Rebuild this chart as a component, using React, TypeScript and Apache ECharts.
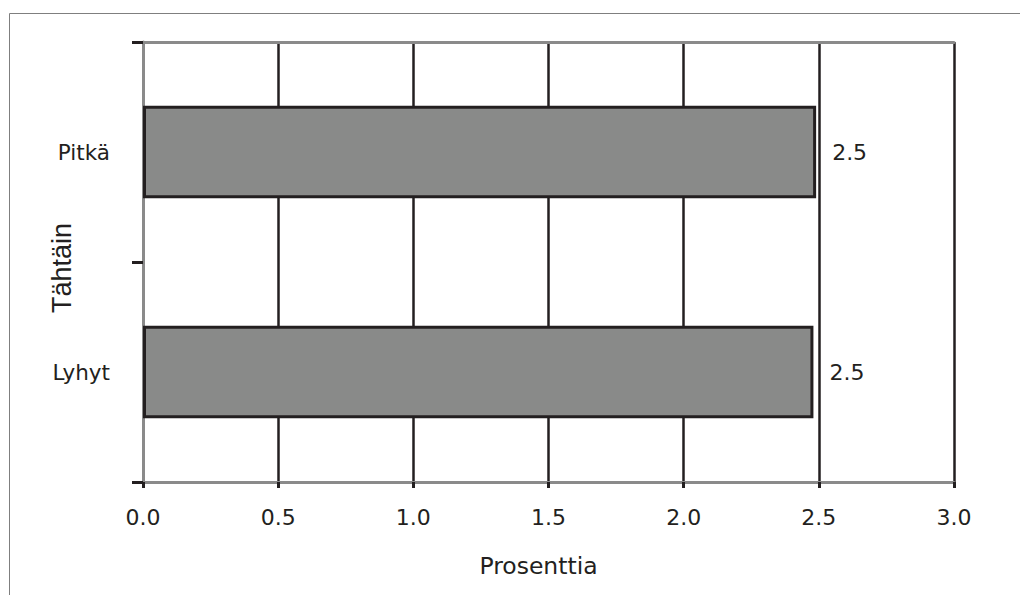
import React, { useEffect, useRef } from "react";
import * as echarts from "echarts";

const categories = ["Lyhyt", "Pitkä"];
const values = [2.48, 2.49];
const xTicks = [0, 0.5, 1.0, 1.5, 2.0, 2.5, 3.0];
const xTitle = "Prosenttia";
const yTitle = "Tähtäin";

const INK = "#231f20";
const AXIS_GRAY = "#8a8a8a";
const FONT = "DejaVu Sans";

export default function App() {
  const ref = useRef<HTMLDivElement>(null);
  useEffect(() => {
    if (!ref.current) return;
    const chart = echarts.init(ref.current, undefined, { renderer: "svg" });
    chart.setOption({
      animation: false,
      backgroundColor: "#ffffff",
      graphic: [
        {
          type: "rect",
          shape: { x: 9.5, y: 13.5, width: 1030, height: 600 },
          style: { fill: "none", stroke: "#7f7f7f", lineWidth: 1 },
          z: 0,
        },
      ],
      grid: { left: 143, right: 66, top: 42, bottom: 113, containLabel: false },
      xAxis: [
        {
          type: "value",
          min: xTicks[0],
          max: xTicks[xTicks.length - 1],
          interval: 0.5,
          position: "bottom",
          name: xTitle,
          nameLocation: "middle",
          nameGap: 72,
          nameMoveOverlap: false,
          nameTextStyle: {
            fontFamily: FONT,
            fontSize: 23.5,
            color: INK,
            padding: [0, 20, 0, 0],
          },
          axisLine: { show: true, lineStyle: { color: AXIS_GRAY, width: 3 } },
          axisTick: { show: true, length: 6, lineStyle: { color: INK, width: 3 } },
          axisLabel: {
            margin: 24,
            fontFamily: FONT,
            fontSize: 22,
            color: INK,
            formatter: (v: number) => v.toFixed(1),
          },
          splitLine: {
            show: true,
            lineStyle: {
              color: [AXIS_GRAY, INK, INK, INK, INK, INK, INK],
              width: 2.5,
            },
          },
        },
        {
          type: "value",
          min: xTicks[0],
          max: xTicks[xTicks.length - 1],
          interval: 0.5,
          position: "top",
          axisLine: { show: true, lineStyle: { color: AXIS_GRAY, width: 3 } },
          axisTick: { show: false },
          axisLabel: { show: false },
          splitLine: { show: false },
        },
      ],
      yAxis: {
        type: "category",
        data: categories,
        name: yTitle,
        nameLocation: "middle",
        nameGap: 68,
        nameRotate: 90,
        nameMoveOverlap: false,
        nameTextStyle: {
          fontFamily: "Liberation Sans",
          fontSize: 27,
          color: INK,
          padding: [0, 12, 0, 0],
        },
        axisLine: { show: true, lineStyle: { color: AXIS_GRAY, width: 3 } },
        axisTick: { show: true, length: 11, lineStyle: { color: INK, width: 3 } },
        axisLabel: { margin: 33, fontFamily: FONT, fontSize: 21.5, color: INK },
        splitLine: { show: false },
      },
      series: [
        {
          type: "bar",
          data: values,
          barCategoryGap: "58%",
          itemStyle: { color: "#898a89", borderColor: INK, borderWidth: 3 },
          label: {
            show: true,
            position: "right",
            distance: 16,
            fontFamily: FONT,
            fontSize: 22,
            color: INK,
            formatter: (p: any) => Number(p.value).toFixed(1),
          },
        },
      ],
    });
    return () => chart.dispose();
  }, []);
  return (
    <div
      ref={ref}
      style={{ position: "absolute", left: 0, top: 0, width: 1020, height: 595 }}
    />
  );
}
